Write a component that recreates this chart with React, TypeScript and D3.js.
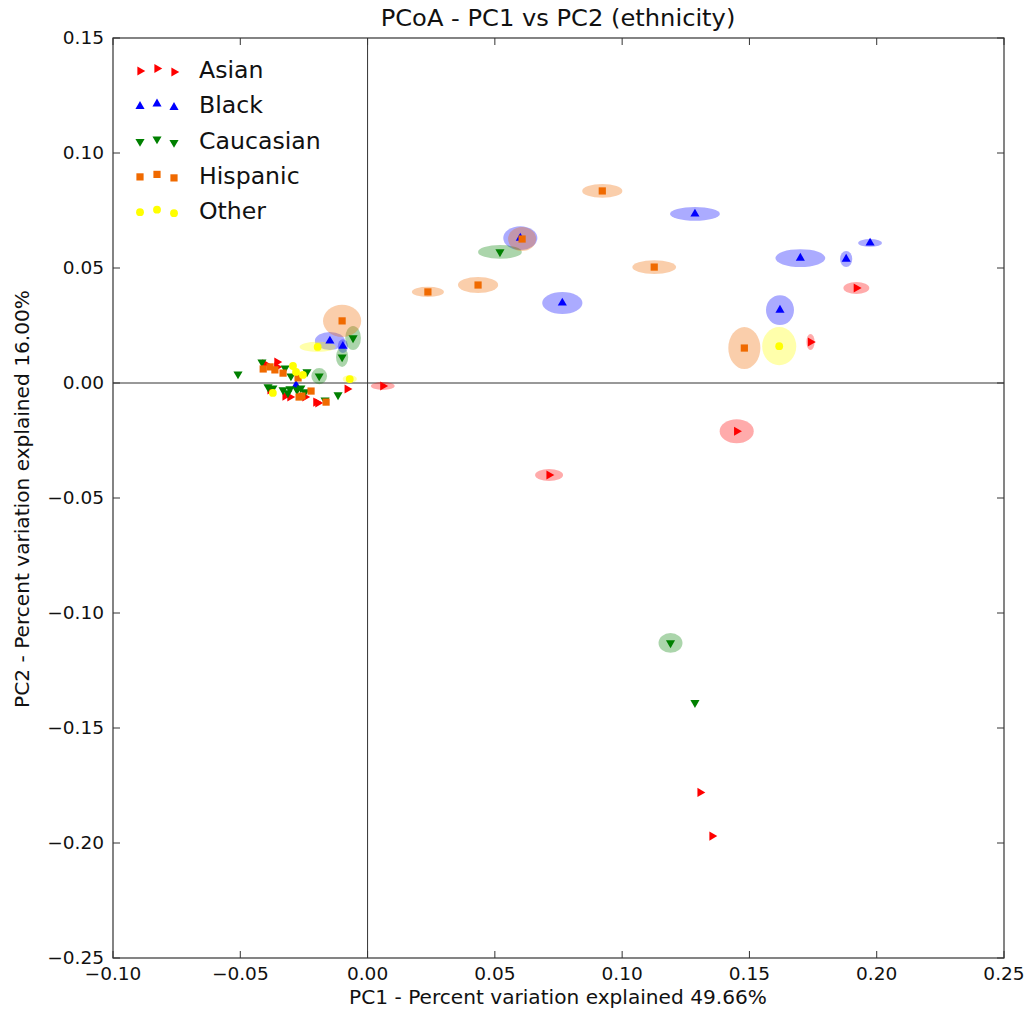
import React from 'react'
import * as d3 from 'd3'

// each row: [pc1, pc2, ellipse half-width, ellipse half-height] (data units)
const asian = [
  [0.006, -0.0013, 0.0047, 0.0017],
  [0.0713, -0.040, 0.0055, 0.0026],
  [0.145, -0.021, 0.0067, 0.0052],
  [0.192, 0.0413, 0.0051, 0.0026],
  [0.174, 0.0178, 0.0016, 0.0035],
  [0.1306, -0.178, 0, 0],
  [0.1353, -0.197, 0, 0],
  [-0.008, -0.0026, 0, 0],
  [-0.0195, -0.0087, 0, 0],
  [-0.0403, 0.0083, 0, 0],
  [-0.0356, 0.0091, 0, 0],
  [-0.0356, 0.0070, 0, 0],
  [-0.0383, -0.0030, 0, 0],
  [-0.0324, -0.0057, 0, 0],
  [-0.0305, -0.0061, 0, 0],
  [-0.0246, -0.0061, 0, 0],
  [-0.0203, -0.0083, 0, 0],
]
const black = [
  [0.060, 0.063, 0.0067, 0.0052],
  [0.0765, 0.0348, 0.0079, 0.0048],
  [0.1286, 0.0735, 0.0098, 0.0030],
  [0.170, 0.0543, 0.0098, 0.0039],
  [0.188, 0.0539, 0.0024, 0.0035],
  [0.1974, 0.0609, 0.0047, 0.0017],
  [0.162, 0.0317, 0.0055, 0.0065],
  [-0.0148, 0.0183, 0.0059, 0.0039],
  [-0.0097, 0.016, 0.0020, 0.0030],
  [-0.0281, -0.001, 0, 0],
]
const caucasian = [
  [0.052, 0.057, 0.0086, 0.003],
  [0.119, -0.113, 0.0047, 0.0043],
  [0.1286, -0.139, 0, 0],
  [-0.0057, 0.0196, 0.0031, 0.0052],
  [-0.010, 0.0113, 0.0024, 0.0043],
  [-0.0509, 0.0039, 0, 0],
  [-0.019, 0.003, 0.0031, 0.0035],
  [-0.0116, -0.0052, 0, 0],
  [-0.0167, -0.0074, 0, 0],
  [-0.0415, 0.0091, 0, 0],
  [-0.0324, 0.0065, 0, 0],
  [-0.0301, 0.0030, 0, 0],
  [-0.0238, 0.0048, 0, 0],
  [-0.0391, -0.0017, 0, 0],
  [-0.0372, -0.0022, 0, 0],
  [-0.0332, -0.0030, 0, 0],
  [-0.0305, -0.0026, 0, 0],
  [-0.0277, -0.0030, 0, 0],
  [-0.0262, -0.0022, 0, 0],
  [-0.0313, -0.0043, 0, 0],
  [-0.0246, -0.0039, 0, 0],
]
const hispanic = [
  [0.0922, 0.0835, 0.0079, 0.003],
  [0.0237, 0.0396, 0.0063, 0.0022],
  [0.0434, 0.0426, 0.0079, 0.0035],
  [0.0607, 0.0626, 0.0055, 0.0052],
  [0.1126, 0.0504, 0.0086, 0.003],
  [0.148, 0.0152, 0.0063, 0.0091],
  [-0.010, 0.027, 0.0075, 0.007],
  [-0.0410, 0.0061, 0, 0],
  [-0.0383, 0.0070, 0, 0],
  [-0.0364, 0.0057, 0, 0],
  [-0.0332, 0.0043, 0, 0],
  [-0.0273, 0.0022, 0, 0],
  [-0.0269, -0.0061, 0, 0],
  [-0.0258, -0.0057, 0, 0],
  [-0.0222, -0.0035, 0, 0],
  [-0.0163, -0.0083, 0, 0],
]
const other = [
  [0.1617, 0.016, 0.0067, 0.0083],
  [-0.007, 0.0017, 0.0028, 0.0017],
  [-0.0196, 0.0157, 0.0071, 0.0022],
  [-0.0293, 0.0074, 0, 0],
  [-0.0281, 0.0048, 0, 0],
  [-0.0254, 0.0035, 0, 0],
  [-0.0372, -0.0043, 0, 0],
]

const groupNames = ['Asian', 'Black', 'Caucasian', 'Hispanic', 'Other']
const groupData = [asian, black, caucasian, hispanic, other]
const groupColors = ['#ff0000', '#0000ff', '#008000', '#f06a00', '#ffff00']
const groupShapes = ['right', 'up', 'down', 'square', 'circle']

const xTicks = [-0.1, -0.05, 0, 0.05, 0.1, 0.15, 0.2, 0.25]
const yTicks = [0.15, 0.1, 0.05, 0, -0.05, -0.1, -0.15, -0.2, -0.25]

const left = 113, right = 1004, top = 38, bottom = 958
const font = 'DejaVu Sans, sans-serif'

const x = d3.scaleLinear().domain([-0.1, 0.25]).range([left, right])
const y = d3.scaleLinear().domain([-0.25, 0.15]).range([bottom, top])
const fmt = (v: number) => d3.format('.2f')(v).replace('-', '\u2212')

const shapePath = (shape: string) => {
  if (shape === 'square') return d3.symbol(d3.symbolSquare, 52)()
  if (shape === 'circle') return d3.symbol(d3.symbolCircle, 48)()
  return d3.symbol(d3.symbolTriangle, 36)()
}
const shapeRot = (shape: string) => shape === 'right' ? 90 : shape === 'down' ? 180 : 0

const Marker = ({ cx, cy, shape, color }: any) => (
  <path d={shapePath(shape) as string} fill={color}
    transform={`translate(${cx},${cy}) rotate(${shapeRot(shape)})`} />
)

// text drawn a little wider than tall, like the source image
const Label = ({ tx, ty, size, anchor, rot, children, dy }: any) => (
  <g transform={`translate(${tx},${ty}) rotate(${rot || 0}) scale(1.06,1)`}>
    <text textAnchor={anchor || 'start'} dy={dy || 0} fontFamily={font} fontSize={size} fill="#111">{children}</text>
  </g>
)

export default function App() {
  const legendX = [140, 157, 174]
  const legendJitter = [1, -1.5, 2]
  return (
    <svg width={1029} height={1014} style={{ display: 'block', position: 'absolute', left: 0, top: 0 }}>
      <defs>
        <filter id="soft" x="-20%" y="-20%" width="140%" height="140%">
          <feGaussianBlur stdDeviation="0.7" />
        </filter>
      </defs>
      <rect width={1029} height={1014} fill="#fff" />
      <Label tx={558} ty={26} size={22.8} anchor="middle">PCoA - PC1 vs PC2 (ethnicity)</Label>

      {/* zero lines */}
      <line x1={x(0)} x2={x(0)} y1={top} y2={bottom} stroke="#333" strokeWidth={1} />
      <line x1={left} x2={right} y1={y(0)} y2={y(0)} stroke="#333" strokeWidth={1} />

      {/* ellipses */}
      <g filter="url(#soft)">
        {groupData.map((g, gi) => g.filter(p => p[2] > 0).map((p, i) => (
          <ellipse key={`e${gi}-${i}`} cx={x(p[0])} cy={y(p[1])}
            rx={x(p[2]) - x(0)} ry={y(0) - y(p[3])}
            fill={groupColors[gi]} fillOpacity={0.33} />
        )))}
      </g>

      {/* points */}
      {groupData.map((g, gi) => g.map((p, i) => (
        <Marker key={`m${gi}-${i}`} cx={x(p[0])} cy={y(p[1])} shape={groupShapes[gi]} color={groupColors[gi]} />
      )))}

      {/* frame and inward ticks */}
      <rect x={left} y={top} width={right - left} height={bottom - top} fill="none" stroke="#333" strokeWidth={1.2} />
      {xTicks.map(t => (
        <g key={`xt${t}`}>
          <line x1={x(t)} x2={x(t)} y1={bottom} y2={bottom - 7} stroke="#333" />
          <line x1={x(t)} x2={x(t)} y1={top} y2={top + 7} stroke="#333" />
          <Label tx={x(t)} ty={980} size={17.5} anchor="middle">{fmt(t)}</Label>
        </g>
      ))}
      {yTicks.map(t => (
        <g key={`yt${t}`}>
          <line x1={left} x2={left + 7} y1={y(t)} y2={y(t)} stroke="#333" />
          <line x1={right} x2={right - 7} y1={y(t)} y2={y(t)} stroke="#333" />
          <Label tx={104} ty={y(t)} size={17.5} anchor="end" dy="0.35em">{fmt(t)}</Label>
        </g>
      ))}

      <Label tx={558} ty={1004} size={19} anchor="middle">PC1 - Percent variation explained 49.66%</Label>
      <g transform="translate(29,499) rotate(-90) scale(1.06,1)">
        <text textAnchor="middle" fontFamily={font} fontSize={19} fill="#111">PC2 - Percent variation explained 16.00%</text>
      </g>

      {/* legend */}
      {groupNames.map((name, gi) => {
        const ry = 70 + gi * 35.3
        return (
          <g key={name}>
            {legendX.map((lx, k) => (
              <Marker key={k} cx={lx} cy={ry + legendJitter[k]} shape={groupShapes[gi]} color={groupColors[gi]} />
            ))}
            <Label tx={199} ty={ry} size={22.3} dy="0.36em">{name}</Label>
          </g>
        )
      })}
    </svg>
  )
}
